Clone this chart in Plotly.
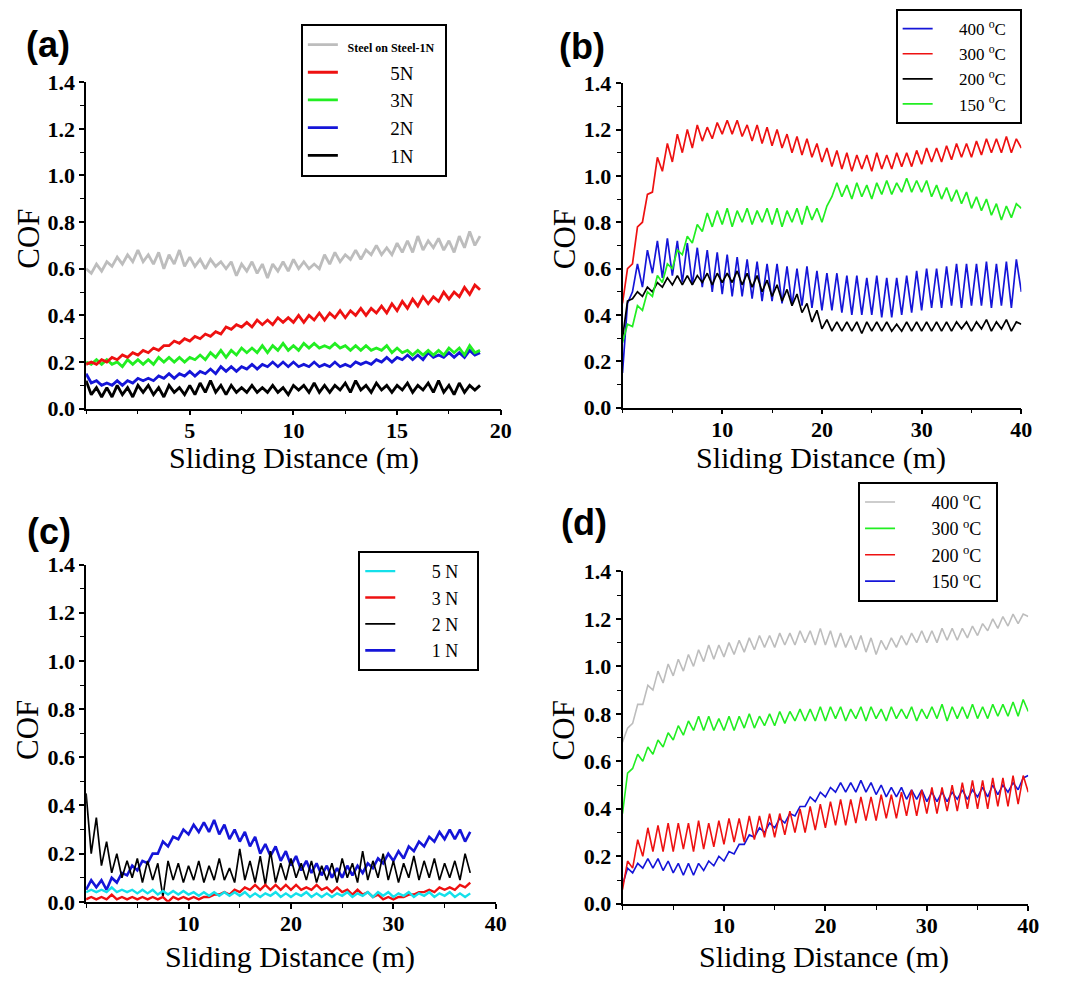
import plotly.graph_objects as go

# ---------------- sampling distances (m) ----------------
DIST_A = [0, 0.25, 0.5, 0.75, 1, 1.25, 1.5, 1.75, 2, 2.25, 2.5, 2.75, 3, 3.25, 3.5, 3.75,
          4, 4.25, 4.5, 4.75, 5, 5.25, 5.5, 5.75, 6, 6.25, 6.5, 6.75, 7, 7.25, 7.5, 7.75,
          8, 8.25, 8.5, 8.75, 9, 9.25, 9.5, 9.75, 10, 10.25, 10.5, 10.75, 11, 11.25, 11.5, 11.75,
          12, 12.25, 12.5, 12.75, 13, 13.25, 13.5, 13.75, 14, 14.25, 14.5, 14.75, 15, 15.25, 15.5, 15.75,
          16, 16.25, 16.5, 16.75, 17, 17.25, 17.5, 17.75, 18, 18.25, 18.5, 18.75, 19]

DIST_40 = [0, 0.5, 1, 1.5, 2, 2.5, 3, 3.5, 4, 4.5, 5, 5.5, 6, 6.5, 7, 7.5, 8, 8.5, 9, 9.5,
           10, 10.5, 11, 11.5, 12, 12.5, 13, 13.5, 14, 14.5, 15, 15.5, 16, 16.5, 17, 17.5, 18, 18.5, 19, 19.5,
           20, 20.5, 21, 21.5, 22, 22.5, 23, 23.5, 24, 24.5, 25, 25.5, 26, 26.5, 27, 27.5, 28, 28.5, 29, 29.5,
           30, 30.5, 31, 31.5, 32, 32.5, 33, 33.5, 34, 34.5, 35, 35.5, 36, 36.5, 37, 37.5, 38, 38.5, 39, 39.5, 40]

DIST_C = [0, 0.5, 1, 1.5, 2, 2.5, 3, 3.5, 4, 4.5, 5, 5.5, 6, 6.5, 7, 7.5, 8, 8.5, 9, 9.5,
          10, 10.5, 11, 11.5, 12, 12.5, 13, 13.5, 14, 14.5, 15, 15.5, 16, 16.5, 17, 17.5, 18, 18.5, 19, 19.5,
          20, 20.5, 21, 21.5, 22, 22.5, 23, 23.5, 24, 24.5, 25, 25.5, 26, 26.5, 27, 27.5, 28, 28.5, 29, 29.5,
          30, 30.5, 31, 31.5, 32, 32.5, 33, 33.5, 34, 34.5, 35, 35.5, 36, 36.5, 37, 37.5]

# ---------------- panel (a): load series ----------------
A_STEEL = [.60, .58, .62, .59, .63, .61, .65, .62, .66, .63, .68, .63, .66, .62, .67, .60,
           .66, .62, .68, .61, .65, .61, .64, .60, .64, .61, .63, .60, .63, .57, .62, .59,
           .63, .58, .62, .56, .62, .59, .63, .59, .64, .60, .63, .60, .62, .60, .66, .62,
           .67, .63, .66, .64, .68, .64, .68, .66, .70, .66, .69, .66, .71, .67, .72, .67,
           .74, .68, .72, .69, .73, .68, .72, .67, .74, .69, .76, .70, .74]
A_5N = [.19, .20, .19, .21, .20, .22, .21, .23, .22, .24, .23, .25, .24, .26, .25, .27,
        .27, .29, .28, .30, .29, .31, .30, .32, .31, .33, .32, .35, .34, .36, .35, .37,
        .35, .38, .36, .38, .36, .39, .37, .39, .37, .40, .37, .40, .38, .41, .38, .41,
        .39, .42, .39, .42, .40, .43, .40, .43, .41, .44, .41, .45, .42, .46, .43, .47,
        .44, .48, .45, .48, .46, .50, .47, .50, .48, .52, .49, .53, .51]
A_3N = [.20, .19, .21, .19, .21, .19, .20, .18, .21, .19, .21, .19, .21, .19, .22, .20,
        .22, .20, .22, .20, .22, .21, .23, .21, .24, .22, .25, .22, .25, .23, .26, .24,
        .26, .24, .27, .24, .27, .25, .28, .25, .27, .25, .28, .26, .28, .26, .27, .26,
        .28, .26, .27, .25, .27, .25, .27, .25, .26, .25, .27, .24, .26, .24, .25, .23,
        .25, .23, .25, .23, .25, .23, .26, .24, .26, .23, .27, .24, .25]
A_2N = [.15, .11, .12, .10, .11, .10, .12, .10, .12, .11, .13, .12, .13, .12, .14, .13,
        .15, .13, .15, .14, .16, .14, .16, .15, .17, .15, .18, .16, .18, .16, .18, .17,
        .19, .17, .19, .18, .20, .18, .20, .18, .20, .18, .19, .18, .20, .18, .19, .18,
        .20, .18, .19, .18, .20, .19, .20, .19, .21, .20, .22, .20, .22, .21, .23, .21,
        .23, .21, .24, .22, .23, .22, .24, .22, .24, .22, .25, .23, .24]
A_1N = [.12, .06, .09, .05, .09, .05, .10, .06, .09, .05, .10, .07, .10, .06, .09, .05,
        .10, .07, .09, .06, .10, .06, .11, .07, .12, .07, .10, .06, .10, .07, .09, .07,
        .10, .07, .09, .07, .10, .07, .09, .06, .10, .08, .10, .07, .11, .07, .10, .07,
        .10, .08, .11, .07, .12, .08, .10, .07, .11, .08, .10, .07, .10, .08, .11, .07,
        .10, .08, .11, .07, .12, .07, .10, .06, .11, .07, .10, .08, .10]

# ---------------- panel (b): temperature series ----------------
B_300 = [.45, .60, .62, .78, .80, .92, .93, 1.08, 1.02, 1.14, 1.06, 1.18, 1.10, 1.20, 1.12, 1.22,
         1.15, 1.21, 1.16, 1.23, 1.18, 1.24, 1.18, 1.24, 1.17, 1.22, 1.15, 1.22, 1.14, 1.21, 1.13, 1.20,
         1.12, 1.18, 1.10, 1.17, 1.09, 1.16, 1.08, 1.14, 1.06, 1.12, 1.04, 1.11, 1.03, 1.10, 1.02, 1.09,
         1.03, 1.09, 1.02, 1.10, 1.03, 1.09, 1.03, 1.10, 1.04, 1.10, 1.04, 1.11, 1.05, 1.12, 1.06, 1.12,
         1.06, 1.13, 1.07, 1.14, 1.08, 1.14, 1.08, 1.15, 1.09, 1.16, 1.10, 1.16, 1.10, 1.17, 1.10, 1.16, 1.12]
B_150 = [.28, .36, .35, .44, .42, .50, .48, .57, .54, .62, .60, .68, .66, .74, .71, .79,
         .76, .84, .78, .85, .79, .86, .78, .85, .80, .86, .79, .85, .80, .86, .79, .86,
         .78, .85, .80, .86, .79, .87, .81, .86, .80, .87, .91, .97, .91, .96, .90, .97,
         .91, .96, .90, .97, .92, .98, .92, .97, .93, .99, .93, .98, .93, .98, .91, .96,
         .90, .95, .89, .94, .88, .93, .86, .91, .85, .90, .83, .88, .81, .87, .82, .88, .86]
B_400 = [.15, .45, .50, .62, .52, .68, .58, .72, .56, .73, .57, .72, .54, .71, .53, .69,
         .52, .68, .50, .67, .49, .66, .48, .65, .48, .64, .47, .63, .46, .62, .46, .62,
         .45, .61, .44, .60, .44, .61, .43, .59, .42, .58, .42, .58, .41, .57, .40, .57,
         .40, .56, .40, .57, .39, .56, .39, .56, .40, .57, .41, .59, .42, .60, .43, .60,
         .43, .61, .44, .62, .43, .62, .44, .62, .44, .63, .43, .62, .44, .63, .43, .64, .50]
B_200 = [.30, .46, .47, .50, .48, .52, .50, .54, .52, .56, .53, .57, .53, .57, .53, .57,
         .54, .58, .53, .58, .54, .58, .54, .59, .53, .58, .52, .57, .50, .55, .48, .53,
         .46, .51, .44, .49, .41, .45, .37, .42, .34, .38, .33, .37, .33, .37, .33, .37,
         .32, .37, .33, .37, .33, .37, .33, .36, .33, .37, .33, .37, .33, .37, .33, .37,
         .33, .37, .33, .37, .34, .37, .33, .37, .34, .38, .33, .37, .34, .38, .33, .37, .36]

# ---------------- panel (c): load series ----------------
C_1N = [.05, .09, .06, .09, .05, .10, .08, .12, .11, .15, .13, .17, .16, .20, .20, .25,
        .23, .27, .26, .30, .28, .32, .29, .33, .29, .34, .28, .32, .26, .30, .25, .29,
        .23, .27, .20, .24, .19, .23, .17, .21, .15, .19, .13, .17, .12, .16, .11, .15,
        .10, .14, .10, .15, .11, .15, .12, .16, .14, .18, .16, .20, .17, .21, .18, .23,
        .21, .25, .23, .27, .25, .29, .26, .30, .26, .30, .25, .29]
C_2N = [.45, .20, .35, .15, .25, .12, .20, .10, .17, .10, .18, .08, .17, .09, .16, .02,
        .17, .09, .16, .08, .15, .09, .17, .08, .15, .09, .18, .09, .14, .08, .22, .09,
        .17, .08, .19, .07, .21, .08, .16, .09, .18, .10, .16, .09, .17, .08, .15, .09,
        .16, .08, .18, .10, .16, .08, .21, .09, .17, .10, .20, .09, .17, .08, .16, .10,
        .19, .09, .17, .10, .18, .09, .16, .10, .17, .09, .20, .12]
C_3N = [.01, .02, .01, .02, .01, .03, .01, .02, .01, .02, .01, .02, .01, .02, .01, .02,
        .00, .02, .01, .02, .01, .02, .01, .02, .02, .03, .03, .04, .03, .05, .04, .06,
        .05, .07, .05, .07, .05, .07, .05, .07, .05, .07, .05, .06, .05, .07, .05, .06,
        .04, .06, .04, .05, .03, .05, .03, .04, .02, .03, .01, .02, .01, .02, .02, .03,
        .03, .04, .04, .05, .04, .06, .05, .06, .05, .07, .06, .08]
C_5N = [.04, .05, .04, .05, .04, .06, .04, .05, .04, .05, .035, .05, .035, .05, .03, .045,
        .03, .045, .03, .045, .03, .04, .025, .04, .025, .04, .025, .04, .025, .04, .025, .04,
        .02, .035, .02, .035, .025, .04, .02, .035, .02, .035, .025, .04, .02, .035, .02, .035,
        .02, .035, .025, .04, .02, .035, .025, .04, .02, .04, .025, .04, .02, .035, .025, .04,
        .02, .035, .025, .04, .02, .035, .025, .04, .02, .035, .02, .035]

# ---------------- panel (d): temperature series ----------------
D_400 = [.68, .74, .76, .84, .84, .92, .90, .98, .93, 1.01, .96, 1.03, .98, 1.05, 1.00, 1.07,
         1.02, 1.09, 1.03, 1.09, 1.04, 1.10, 1.05, 1.11, 1.06, 1.12, 1.07, 1.13, 1.08, 1.13, 1.08, 1.14,
         1.09, 1.14, 1.09, 1.15, 1.10, 1.15, 1.09, 1.16, 1.09, 1.15, 1.08, 1.14, 1.08, 1.13, 1.07, 1.13,
         1.06, 1.12, 1.05, 1.11, 1.07, 1.12, 1.08, 1.13, 1.09, 1.14, 1.10, 1.15, 1.10, 1.15, 1.10, 1.16,
         1.11, 1.16, 1.11, 1.16, 1.12, 1.17, 1.13, 1.18, 1.15, 1.20, 1.16, 1.21, 1.17, 1.22, 1.18, 1.22, 1.21]
D_300 = [.38, .55, .57, .63, .60, .66, .63, .69, .66, .72, .69, .75, .71, .77, .73, .79,
         .73, .79, .73, .78, .73, .79, .73, .79, .74, .80, .74, .79, .75, .80, .75, .81,
         .76, .81, .77, .82, .77, .82, .77, .83, .77, .83, .78, .83, .77, .82, .78, .83,
         .77, .83, .78, .82, .77, .83, .78, .82, .78, .83, .77, .82, .78, .83, .78, .84,
         .77, .83, .78, .83, .78, .84, .78, .83, .78, .84, .79, .84, .79, .85, .79, .86, .81]
D_200 = [.06, .18, .15, .27, .20, .32, .22, .33, .22, .34, .22, .34, .23, .34, .22, .35,
         .23, .34, .24, .35, .25, .36, .26, .36, .26, .37, .27, .37, .28, .38, .28, .38,
         .29, .39, .30, .40, .30, .41, .31, .42, .32, .43, .33, .44, .33, .44, .34, .45,
         .35, .45, .35, .46, .36, .46, .36, .47, .37, .48, .37, .48, .38, .49, .38, .49,
         .39, .50, .39, .51, .40, .52, .40, .52, .40, .53, .41, .53, .41, .54, .42, .54, .47]
D_150 = [.08, .15, .13, .17, .15, .19, .15, .19, .14, .18, .13, .17, .12, .17, .12, .17,
         .14, .18, .16, .20, .18, .22, .21, .25, .25, .29, .28, .32, .30, .34, .32, .36,
         .34, .38, .37, .41, .41, .45, .43, .47, .45, .49, .47, .51, .47, .51, .47, .52,
         .47, .51, .46, .50, .45, .49, .45, .49, .44, .48, .44, .48, .43, .47, .43, .47,
         .43, .47, .44, .48, .44, .48, .45, .49, .45, .50, .46, .50, .47, .51, .48, .53, .54]

# ---------------- styling ----------------
RED = "#ee1111"
GREEN = "#22ee22"
BLUE = "#1515d8"
BLACK = "#000000"
GRAY = "#bdbdbd"
CYAN = "#14e0ea"
SERIF = "Liberation Serif"
NB = "\u00a0"

fig = go.Figure()


def add(x, y, name, color, width, ax, leg, rank):
    fig.add_trace(go.Scatter(
        x=x, y=y, mode="lines", name=name,
        line=dict(color=color, width=width),
        xaxis="x" + ax, yaxis="y" + ax, legend=leg, legendrank=rank,
        hoverinfo="skip"))


# (a)
add(DIST_A, A_STEEL, NB + "<b><span style='font-size:12px'>Steel on Steel-1N</span></b>" + NB, GRAY, 2.8, "", "legend", 1)
add(DIST_A, A_1N, NB * 10 + "1N", BLACK, 2.8, "", "legend", 5)
add(DIST_A, A_2N, NB * 10 + "2N", BLUE, 2.8, "", "legend", 4)
add(DIST_A, A_3N, NB * 10 + "3N", GREEN, 2.8, "", "legend", 3)
add(DIST_A, A_5N, NB * 10 + "5N", RED, 2.8, "", "legend", 2)
# (b)
add(DIST_40, B_400, NB * 5 + "400 <sup>o</sup>C" + NB * 2, BLUE, 1.7, "2", "legend2", 1)
add(DIST_40, B_200, NB * 5 + "200 <sup>o</sup>C" + NB * 2, BLACK, 1.7, "2", "legend2", 3)
add(DIST_40, B_300, NB * 5 + "300 <sup>o</sup>C" + NB * 2, RED, 1.7, "2", "legend2", 2)
add(DIST_40, B_150, NB * 5 + "150 <sup>o</sup>C" + NB * 2, GREEN, 1.7, "2", "legend2", 4)
# (c)
add(DIST_C, C_1N, NB * 7 + "1 N" + NB * 3, BLUE, 2.6, "3", "legend3", 4)
add(DIST_C, C_2N, NB * 7 + "2 N" + NB * 3, BLACK, 1.7, "3", "legend3", 3)
add(DIST_C, C_3N, NB * 7 + "3 N" + NB * 3, RED, 2.4, "3", "legend3", 2)
add(DIST_C, C_5N, NB * 7 + "5 N" + NB * 3, CYAN, 2.4, "3", "legend3", 1)
# (d)
add(DIST_40, D_400, NB * 7 + "400 <sup>o</sup>C" + NB * 2, GRAY, 1.6, "4", "legend4", 1)
add(DIST_40, D_300, NB * 7 + "300 <sup>o</sup>C" + NB * 2, GREEN, 1.6, "4", "legend4", 2)
add(DIST_40, D_150, NB * 7 + "150 <sup>o</sup>C" + NB * 2, BLUE, 1.6, "4", "legend4", 4)
add(DIST_40, D_200, NB * 7 + "200 <sup>o</sup>C" + NB * 2, RED, 1.6, "4", "legend4", 3)

W, H = 1065, 984
tickfont = dict(family=SERIF, size=22, color="black", weight="bold")
Y_TICKS = [0, 0.2, 0.4, 0.6, 0.8, 1.0, 1.2, 1.4]
Y_TEXT = ["<b>0.0</b>", "<b>0.2</b>", "<b>0.4</b>", "<b>0.6</b>", "<b>0.8</b>", "<b>1.0</b>", "<b>1.2</b>", "<b>1.4</b>"]


def xax(domain, anchor, rng, vals, minor):
    return dict(domain=domain, anchor=anchor, range=rng, tickmode="array", tickvals=vals,
                ticktext=["<b>%g</b>" % v for v in vals],
                showline=True, linecolor="black", linewidth=1.5, mirror=False,
                ticks="outside", ticklen=5, tickwidth=1.5, tickcolor="black",
                ticklabelstandoff=-4,
                showgrid=False, zeroline=False, tickfont=tickfont,
                minor=dict(ticks="outside", ticklen=4, tickwidth=1.2, tickcolor="black",
                           dtick=minor, tick0=0, showgrid=False))


def yax(domain, anchor):
    return dict(domain=domain, anchor=anchor, range=[0, 1.4], tickmode="array",
                tickvals=Y_TICKS, ticktext=Y_TEXT,
                showline=True, linecolor="black", linewidth=1.5,
                ticks="outside", ticklen=5, tickwidth=1.5, tickcolor="black",
                showgrid=False, zeroline=False, tickfont=tickfont,
                minor=dict(ticks="outside", ticklen=4, tickwidth=1.2, tickcolor="black",
                           dtick=0.1, tick0=0, showgrid=False))


def px_x(p):
    return p / W


def px_y(p):
    return 1 - p / H


fig.update_layout(
    width=W, height=H, margin=dict(l=0, r=0, t=0, b=0),
    paper_bgcolor="white", plot_bgcolor="white",
    xaxis=xax([px_x(87), px_x(506)], "y", [0, 20], [5, 10, 15, 20], 2.5),
    yaxis=yax([px_y(407), px_y(72)], "x"),
    xaxis2=xax([px_x(629), px_x(1032)], "y2", [0, 40], [10, 20, 30, 40], 5),
    yaxis2=yax([px_y(406), px_y(73)], "x2"),
    xaxis3=xax([px_x(87), px_x(501)], "y3", [0, 40], [10, 20, 30, 40], 5),
    yaxis3=yax([px_y(913), px_y(567)], "x3"),
    xaxis4=xax([px_x(629), px_x(1039)], "y4", [0, 40], [10, 20, 30, 40], 5),
    yaxis4=yax([px_y(915), px_y(574)], "x4"),
    showlegend=True,
)

legbase = dict(bgcolor="white", bordercolor="black", borderwidth=2, xanchor="left", yanchor="top",
               tracegroupgap=0, itemwidth=30, traceorder="normal")
fig.update_layout(
    legend=dict(legbase, x=px_x(304), y=px_y(12), font=dict(family=SERIF, size=19, color="black")),
    legend2=dict(legbase, x=px_x(905), y=px_y(-3), font=dict(family=SERIF, size=17, color="black")),
    legend3=dict(legbase, x=px_x(362), y=px_y(553), font=dict(family=SERIF, size=18, color="black")),
    legend4=dict(legbase, x=px_x(867), y=px_y(482), font=dict(family=SERIF, size=18, color="black")),
)

ann = []
for lab, cx, cy in [("(a)", 48, 33), ("(b)", 588, 35), ("(c)", 50, 533), ("(d)", 590, 524)]:
    ann.append(dict(text=lab, x=px_x(cx), y=px_y(cy), xref="paper", yref="paper", showarrow=False,
                    xanchor="center", yanchor="middle",
                    font=dict(family="Liberation Sans", size=36, color="black", weight="bold")))
for cx, cy in [(297, 458), (830, 458), (293, 970), (833, 970)]:
    ann.append(dict(text="Sliding Distance (m)", x=px_x(cx), y=px_y(cy), xref="paper", yref="paper",
                    showarrow=False, xanchor="center", yanchor="middle",
                    font=dict(family=SERIF, size=30, color="black")))
for cx, cy in [(28, 233), (570, 233), (28, 737), (569, 737)]:
    ann.append(dict(text="COF", x=px_x(cx), y=px_y(cy), xref="paper", yref="paper", textangle=-90,
                    showarrow=False, xanchor="center", yanchor="middle",
                    font=dict(family=SERIF, size=31, color="black")))
fig.update_layout(annotations=ann)

fig.write_html("out.html")
